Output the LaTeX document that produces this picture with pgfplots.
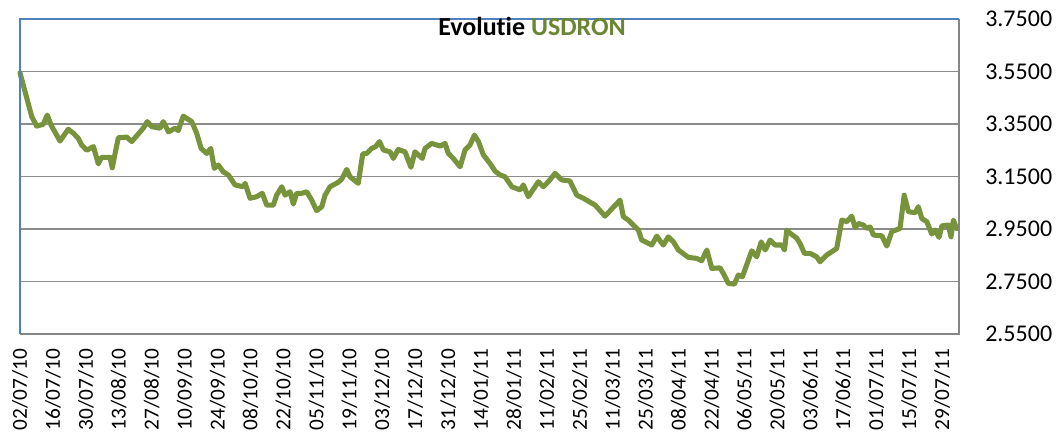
\documentclass[border=0pt]{standalone}
\usepackage{fontspec}
\setmainfont{Carlito}[Ligatures=NoCommon]
\usepackage{pgfplots}
\pgfplotsset{compat=1.18}
\definecolor{lineolive}{HTML}{77933C}
\definecolor{titleolive}{HTML}{6A8632}
\definecolor{gridgray}{HTML}{8C8C8C}
\definecolor{spineblue}{HTML}{4F81BD}
\definecolor{spinegray}{HTML}{868686}
\begin{document}
\begin{tikzpicture}
\begin{axis}[name=ax, scale only axis, width=704.25pt, height=236.25pt,
  xmin=0, xmax=399.2, ymin=2.55, ymax=3.75, clip=false,
  axis line style={draw=none},
  major tick length=0pt,
  ytick={2.55,2.75,2.95,3.15,3.35,3.55,3.75},
  yticklabel pos=right,
  ymajorgrids, grid style={draw=gridgray, line width=1.2pt},
  yticklabel style={font=\fontsize{18}{18}\selectfont, anchor=west, inner sep=0pt,
    /pgf/number format/fixed, /pgf/number format/fixed zerofill,
    /pgf/number format/precision=4, /pgf/number format/assume math mode=true},
  yticklabel shift=19.5pt,
  xtick={0,14,...,392},
  xticklabels={02/07/10,16/07/10,30/07/10,13/08/10,27/08/10,10/09/10,24/09/10,08/10/10,22/10/10,05/11/10,19/11/10,03/12/10,17/12/10,31/12/10,14/01/11,28/01/11,11/02/11,25/02/11,11/03/11,25/03/11,08/04/11,22/04/11,06/05/11,20/05/11,03/06/11,17/06/11,01/07/11,15/07/11,29/07/11},
  xticklabel style={font=\fontsize{16}{16}\selectfont, rotate=90, anchor=east, inner sep=0pt},
  xticklabel shift=11pt,
]
\addplot[lineolive, line width=3.8pt, line join=round, line cap=round] coordinates {
(0,3.545)(5.0,3.378)(7.1,3.342)(9.9,3.349)(11.6,3.384)(13.2,3.346)(17.0,3.285)(20.5,3.330)
(22.7,3.315)(24.8,3.295)(26.2,3.270)(28.4,3.250)(31.2,3.264)(33.3,3.198)(34.7,3.223)(38.3,3.223)
(39.2,3.183)(41.8,3.298)(45.4,3.300)(47.5,3.283)(52.4,3.334)(54.1,3.359)(56.0,3.340)(59.5,3.334)
(60.9,3.359)(63.1,3.320)(65.9,3.334)(67.3,3.325)(69.4,3.380)(73.0,3.359)(75.1,3.315)(77.0,3.257)
(79.4,3.238)(81.1,3.257)(82.6,3.181)(84.3,3.194)(86.4,3.168)(88.6,3.156)(91.4,3.118)(94.9,3.111)
(95.7,3.124)(97.8,3.067)(100.6,3.073)(103.0,3.086)(104.9,3.041)(107.7,3.041)(109.1,3.079)(111.3,3.111)
(112.7,3.079)(114.8,3.092)(116.2,3.045)(117.6,3.086)(119.8,3.086)(121.9,3.092)(124.0,3.060)(126.1,3.020)
(128.3,3.035)(129.7,3.079)(131.8,3.111)(135.3,3.128)(136.8,3.140)(138.9,3.177)(140.3,3.149)(143.8,3.124)
(145.7,3.236)(147.4,3.238)(149.5,3.257)(151.2,3.264)(152.8,3.283)(154.5,3.251)(157.3,3.244)(158.7,3.219)
(160.8,3.253)(163.7,3.244)(166.2,3.185)(167.9,3.244)(171.0,3.219)(172.2,3.257)(175.0,3.276)(178.6,3.266)
(180.7,3.276)(182.1,3.238)(184.2,3.219)(187.1,3.187)(189.2,3.251)(191.3,3.270)(193.2,3.308)(194.9,3.283)
(197.0,3.232)(199.8,3.200)(202.0,3.170)(204.1,3.156)(206.2,3.149)(209.1,3.111)(212.6,3.099)(214.0,3.118)
(216.1,3.073)(220.4,3.130)(222.5,3.111)(224.6,3.130)(227.5,3.162)(230.3,3.137)(233.8,3.133)(236.7,3.079)
(239.5,3.067)(244.5,3.041)(248.7,2.999)(255.1,3.060)(256.5,2.997)(258.6,2.984)(262.9,2.946)(264.3,2.908)
(268.6,2.889)(270.7,2.923)(272.1,2.905)(273.5,2.889)(275.6,2.920)(277.8,2.901)(279.9,2.870)(284.1,2.842)
(287.7,2.838)(289.8,2.829)(292.0,2.870)(294.1,2.800)(297.6,2.802)(299.0,2.781)(301.1,2.743)(303.7,2.740)
(305.4,2.775)(307.1,2.768)(311.1,2.867)(313.2,2.844)(315.1,2.901)(316.8,2.870)(318.9,2.908)(321.0,2.889)
(323.9,2.889)(325.0,2.870)(326.0,2.946)(327.4,2.934)(330.2,2.915)(331.6,2.895)(333.5,2.857)(335.9,2.857)
(338.7,2.844)(340.1,2.825)(343.0,2.851)(347.2,2.876)(349.4,2.984)(351.5,2.978)(353.6,2.999)(355.0,2.956)
(356.5,2.971)(358.6,2.965)(360.0,2.952)(361.4,2.958)(362.8,2.927)(366.4,2.924)(368.5,2.885)(370.6,2.940)
(374.1,2.952)(375.9,3.079)(377.7,3.016)(380.6,3.012)(381.9,3.035)(383.4,2.990)(385.5,2.978)(387.6,2.931)
(389.0,2.946)(390.7,2.918)(391.9,2.962)(394.7,2.965)(395.8,2.920)(396.8,2.984)(398.2,2.952)
};
\draw[spinegray, line width=1.5pt] (rel axis cs:0,0) -- (rel axis cs:1,0) -- (rel axis cs:1,1);
\draw[spineblue, line width=1.2pt] (rel axis cs:0,0) -- (rel axis cs:0,1) -- (rel axis cs:1,1);
\node[font=\bfseries\fontsize{19.5}{19.5}\selectfont, anchor=base, inner sep=0pt] at (rel axis cs:0.5453,0.949) {Evolutie \textcolor{titleolive}{USDRON}};
\end{axis}
\pgfresetboundingbox
\path[use as bounding box] ([shift={(-15pt,-73.5pt)}]ax.south west) rectangle ([shift={(76.5pt,14.25pt)}]ax.north east);
\end{tikzpicture}
\end{document}
